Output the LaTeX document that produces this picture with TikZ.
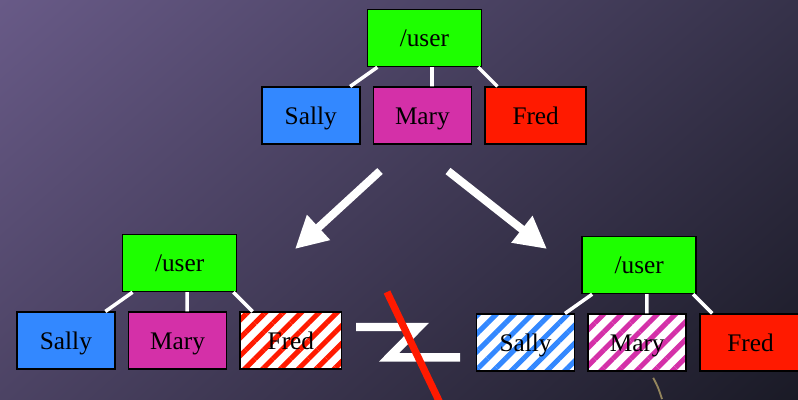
\documentclass[tikz,border=0pt]{standalone}
\usepackage{fontspec}
\setmainfont{Liberation Serif}
\usetikzlibrary{positioning, arrows.meta, patterns.meta, shadings}

\definecolor{foldergreen}{RGB}{30,255,0}
\definecolor{sallyblue}{RGB}{51,136,255}
\definecolor{marypink}{RGB}{212,48,168}
\definecolor{fredred}{RGB}{255,26,0}
\definecolor{bgul}{RGB}{104,90,135}
\definecolor{bgur}{RGB}{54,50,74}
\definecolor{bgll}{RGB}{76,67,100}
\definecolor{bglr}{RGB}{26,26,38}
\definecolor{streak}{RGB}{176,158,104}

\begin{document}
\begin{tikzpicture}[node distance=0.48cm and 0.3cm,
    every node/.style={rectangle, draw=black, line width=1.2pt, minimum height=1.42cm, inner sep=0pt, text height=12.5pt, text depth=0pt, font=\fontsize{18}{20}\selectfont},
    folder/.style={fill=foldergreen, minimum width=2.85cm},
    account/.style={minimum width=2.45cm},
    striped/.style={preaction={fill=white}, preaction={pattern color=#1, pattern={Lines[angle=45, distance=9pt, line width=3.6pt]}}},
    link/.style={draw=white, line width=2.5pt},
    bigarrow/.style={draw=white, line width=0.2cm, -{Triangle[length=0.8cm, width=0.8cm]}}]
        \useasboundingbox (0,0) rectangle (19.95,9.975);
        \shade[upper left=bgul, upper right=bgur, lower left=bgll, lower right=bglr] (0,0) rectangle (19.95,9.975);
        \draw[streak, line width=1.3pt, opacity=0.8] (16.33,0.53) .. controls (16.45,0.3) .. (16.55,0);

        % original directory
        \node[folder] (troot) at (10.61,9.025) {/user};
        \node[account, fill=marypink, below=of troot, xshift=-0.05cm] (tmary) {Mary};
        \node[account, fill=sallyblue, left=of tmary] (tsally) {Sally};
        \node[account, fill=fredred, right=of tmary, minimum width=2.53cm] (tfred) {Fred};

        % left copy, Fred changed
        \node[folder] (lroot) at (4.49,3.4) {/user};
        \node[account, fill=marypink, below=of lroot, xshift=-0.05cm] (lmary) {Mary};
        \node[account, fill=sallyblue, left=of lmary] (lsally) {Sally};
        \node[account, striped=fredred, right=of lmary, minimum width=2.53cm] (lfred) {Fred};

        % right copy, Sally and Mary changed
        \node[folder] (rroot) at (15.98,3.35) {/user};
        \node[account, striped=marypink, below=of rroot, xshift=-0.05cm] (rmary) {Mary};
        \node[account, striped=sallyblue, left=of rmary] (rsally) {Sally};
        \node[account, fill=fredred, right=of rmary, minimum width=2.53cm] (rfred) {Fred};

        % tree edges
        \foreach \side in {t,l,r} {
            \draw[link] ([xshift=0.27cm]\side root.south west) -- ([xshift=-0.26cm]\side sally.north east);
            \draw[link] ([xshift=0.19cm]\side root.south) -- ([xshift=0.24cm]\side mary.north);
            \draw[link] ([xshift=-0.1cm]\side root.south east) -- ([xshift=0.33cm]\side fred.north west);
        }

        % Arrows
        \coordinate (lfrom) at (9.5,5.7);
        \coordinate (lto) at (7.375,3.75);
        \coordinate (rfrom) at (11.2,5.7);
        \coordinate (rto) at (13.675,3.75);
        \draw[bigarrow] (lfrom) -- (lto);
        \draw[bigarrow] (rfrom) -- (rto);

        % crossed out sign between the copies
        \draw[white, line width=0.21cm] (8.9,1.8) -- (10.475,1.8) -- (9.725,1.04) -- (11.5,1.04);
        \draw[fredred, line width=0.18cm] (9.675,2.675) -- (11.0,-0.1);
    \end{tikzpicture}
\end{document}
